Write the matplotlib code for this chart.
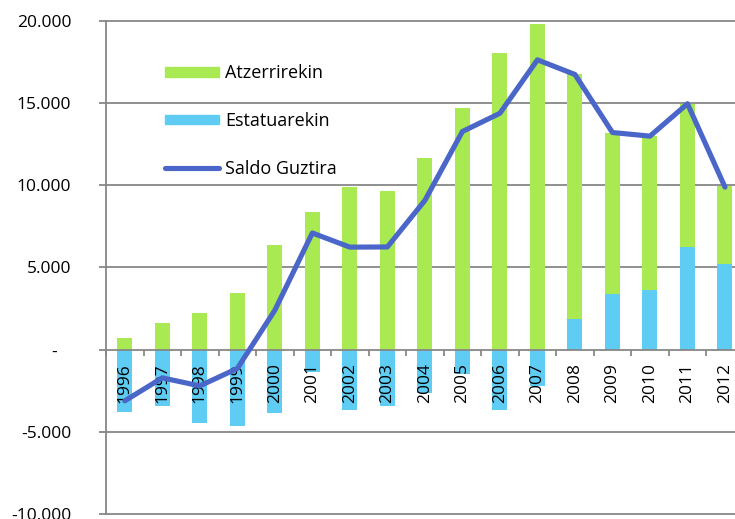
import numpy as np
import matplotlib
matplotlib.use("Agg")
import matplotlib.pyplot as plt
from matplotlib.ticker import FixedLocator, FuncFormatter
from matplotlib.lines import Line2D
from matplotlib.patches import Patch

years = ["1996", "1997", "1998", "1999", "2000", "2001", "2002", "2003", "2004",
         "2005", "2006", "2007", "2008", "2009", "2010", "2011", "2012"]
estatuarekin = [-3800, -3430, -4480, -4660, -3830, -1360, -3670, -3440, -2620,
                -1460, -3690, -2230, 1840, 3400, 3620, 6240, 5220]
atzerrirekin = [680, 1600, 2200, 3420, 6340, 8390, 9860, 9660, 11620,
                14700, 18060, 19820, 14930, 9800, 9360, 8700, 4720]
saldo = [-3120, -1720, -2210, -1150, 2390, 7090, 6230, 6240, 9070,
         13260, 14370, 17620, 16730, 13200, 12980, 14950, 9880]
yticks = [-10000, -5000, 0, 5000, 10000, 15000, 20000]

GREEN = "#A9EA52"
BLUE = "#5FCCF3"
LINE = "#4A66C9"
GRAY = "#878787"

plt.rcParams['font.family'] = ['Open Sans', 'DejaVu Sans']

fig = plt.figure(figsize=(7.35, 5.19), dpi=100)
W, H = 735, 519
left, right, top, bottom = 106, 743.75, 20.7, 514
ax = fig.add_axes([left / W, 1 - bottom / H, (right - left) / W, (bottom - top) / H])

x = np.arange(len(years))
est = np.array(estatuarekin)
atz = np.array(atzerrirekin)
ax.bar(x, est, width=0.4, color=BLUE, zorder=1)
ax.bar(x, atz, width=0.4, bottom=np.maximum(est, 0), color=GREEN, zorder=1)
ax.plot(x, saldo, color=LINE, lw=3.7, solid_joinstyle='round',
        solid_capstyle='round', zorder=3)

ax.set_xlim(-0.5, len(years) - 0.5)
ax.set_ylim(-10000, 20000)

ax.yaxis.set_major_locator(FixedLocator(yticks))
def fmt(v, pos):
    if v == 0:
        return "-   "
    return f"{int(v):,}".replace(",", ".")
ax.yaxis.set_major_formatter(FuncFormatter(fmt))
for yv in yticks:
    if yv != 0:
        ax.axhline(yv, color=GRAY, lw=1.3, zorder=0.5, clip_on=False)

ax.spines['top'].set_visible(False)
ax.spines['right'].set_visible(False)
ax.spines['left'].set_color(GRAY)
ax.spines['left'].set_linewidth(1.3)
ax.spines['bottom'].set_position(('data', 0))
ax.spines['bottom'].set_color(GRAY)
ax.spines['bottom'].set_linewidth(1.3)

ax.set_xticks(x)
ax.set_xticklabels(years, rotation=90, fontsize=12.5, va='top')
ax.set_xticks(np.arange(len(years) + 1) - 0.5, minor=True)
ax.tick_params(axis='x', which='major', length=0, pad=10)
ax.tick_params(axis='x', which='minor', length=4, color=GRAY, width=1.3, direction='out')
ax.tick_params(axis='y', length=5, color=GRAY, width=1.3, pad=20, labelsize=12.5)

handles = [Patch(color=GREEN), Patch(color=BLUE), Line2D([], [], color=LINE, lw=3.7, solid_capstyle='round')]
labels = ["Atzerrirekin", "Estatuarekin", "Saldo Guztira"]
leg = ax.legend(handles, labels, loc='upper left', bbox_to_anchor=(149 / W, 1 - 48 / H),
                bbox_transform=fig.transFigure, frameon=False, fontsize=13,
                handlelength=3.0, handleheight=0.45, handletextpad=0.3, labelspacing=1.65)

fig.savefig("out.png", dpi=100)
